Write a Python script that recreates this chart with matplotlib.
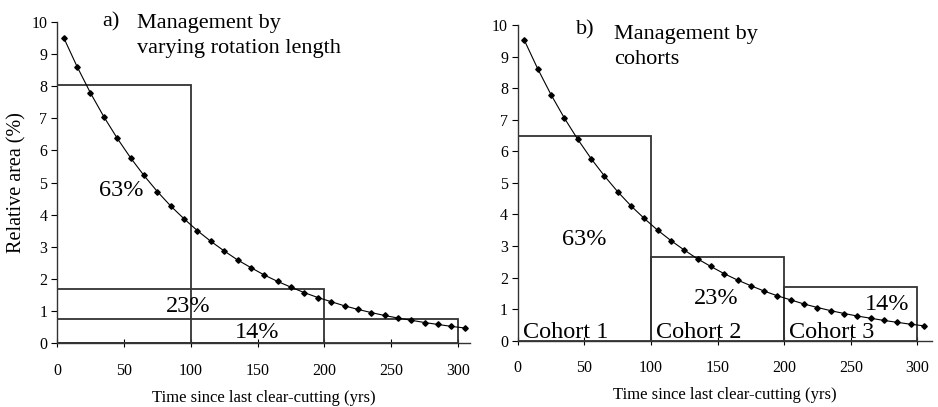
import matplotlib.pyplot as plt
import numpy as np

# --- data ---
years = [5, 15, 25, 35, 45, 55, 65, 75, 85, 95, 105, 115, 125, 135, 145, 155,
         165, 175, 185, 195, 205, 215, 225, 235, 245, 255, 265, 275, 285, 295, 305]
rel_area = [9.51, 8.61, 7.79, 7.05, 6.38, 5.77, 5.22, 4.72, 4.27, 3.87, 3.50,
            3.17, 2.87, 2.59, 2.35, 2.12, 1.92, 1.74, 1.57, 1.42, 1.29, 1.16,
            1.05, 0.95, 0.86, 0.78, 0.71, 0.64, 0.58, 0.52, 0.47]

# a) varying rotation length: boxes all start at 0
rot_left = [0, 0, 0]
rot_width = [100, 200, 300]
rot_height = [8.05, 1.67, 0.74]
rot_labels = ['63%', '23%', '14%']

# b) cohorts: side by side boxes
coh_left = [0, 100, 200]
coh_width = [100, 100, 100]
coh_height = [6.48, 2.66, 1.69]
coh_labels = ['63%', '23%', '14%']
coh_names = ['Cohort 1', 'Cohort 2', 'Cohort 3']

SERIF = 'Liberation Serif'
plt.rcParams['font.family'] = SERIF

fig = plt.figure(figsize=(9.38, 4.07), dpi=100)
ax1 = fig.add_axes([0.0608, 0.157, 0.4405, 0.789])
ax2 = fig.add_axes([0.552, 0.163, 0.4416, 0.7756])


def style_axis(ax, xmax):
    ax.set_xlim(0, xmax)
    ax.set_ylim(0, 10)
    ax.spines['top'].set_visible(False)
    ax.spines['right'].set_visible(False)
    for s in ['left', 'bottom']:
        ax.spines[s].set_linewidth(1.0)
        ax.spines[s].set_color('#333333')
    ax.set_xticks([0, 50, 100, 150, 200, 250, 300])
    ax.set_yticks(range(0, 11))
    ax.tick_params(axis='x', direction='inout', length=6, pad=11, labelsize=11.5)
    ax.tick_params(axis='y', direction='out', length=4, pad=3, labelsize=11.5)
    ax.set_xlabel('Time since last clear-cutting (yrs)', fontsize=12, labelpad=8)


def draw_curve(ax):
    ax.plot(years, rel_area, color='black', lw=0.8, marker='D', markersize=2.8,
            zorder=3, clip_on=False)


# --- panel a ---
ax1.bar(rot_left, rot_height, width=rot_width, align='edge', fill=False,
        edgecolor='#333333', linewidth=1.3, zorder=2)
draw_curve(ax1)
style_axis(ax1, 309)
ax1.set_ylabel('Relative area (%)', fontsize=14.5)
ax1.yaxis.set_label_coords(-0.073, 0.5)
ax1.text(48, 4.75, rot_labels[0], fontsize=17.5, ha='center', va='center')
ax1.text(98, 1.15, rot_labels[1], fontsize=17.5, ha='center', va='center')
ax1.text(150, 0.33, rot_labels[2], fontsize=17.5, ha='center', va='center')
ax1.text(34, 10.0, 'a)', fontsize=16, ha='left', va='center')
ax1.text(60, 10.25, 'Management by\nvarying rotation length', fontsize=16,
         ha='left', va='top', linespacing=1.4)

# --- panel b ---
ax2.bar(coh_left, coh_height, width=coh_width, align='edge', fill=False,
        edgecolor='#333333', linewidth=1.3, zorder=2)
draw_curve(ax2)
style_axis(ax2, 311)
ax2.text(50, 3.2, coh_labels[0], fontsize=17.5, ha='center', va='center')
ax2.text(149, 1.33, coh_labels[1], fontsize=17.5, ha='center', va='center')
ax2.text(277, 1.16, coh_labels[2], fontsize=17.5, ha='center', va='center')
for x0, name in zip(coh_left, coh_names):
    ax2.text(x0 + 4, 0.08, name, fontsize=17.5, ha='left', va='baseline')
ax2.text(44, 9.85, 'b)', fontsize=16, ha='left', va='center')
ax2.text(72, 10.0, 'Management by\ncohorts', fontsize=16,
         ha='left', va='top', linespacing=1.4)

fig.savefig('out.png', dpi=100)
